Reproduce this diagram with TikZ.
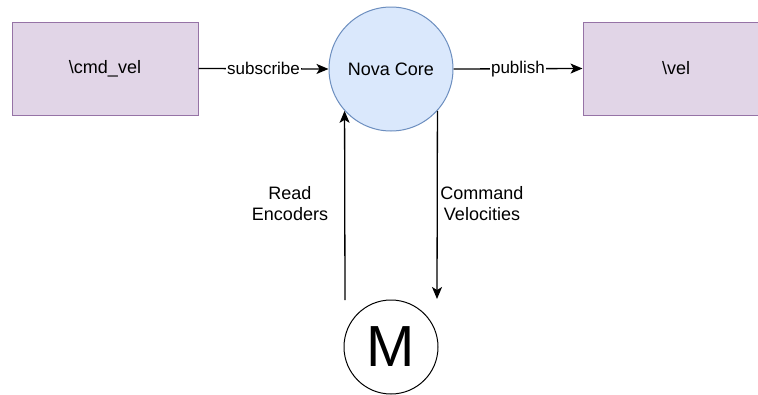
\documentclass[tikz,border=0pt]{standalone}
\usepackage{fontspec}
\setmainfont{Liberation Sans}
\usetikzlibrary{arrows.meta}
\definecolor{topicfill}{HTML}{E1D5E7}
\definecolor{topicdraw}{HTML}{9673A6}
\definecolor{corefill}{HTML}{DAE8FC}
\definecolor{coredraw}{HTML}{6C8EBF}
\tikzset{
  topic/.style={draw=topicdraw, fill=topicfill, line width=1pt, minimum width=186pt, minimum height=93pt, inner sep=0pt, font=\fontsize{18}{21}\selectfont},
  core/.style={circle, draw=coredraw, fill=corefill, line width=1pt, minimum size=124pt, inner sep=0pt, font=\fontsize{18}{21}\selectfont},
  motor/.style={circle, draw=black, line width=1pt, minimum size=94pt, inner sep=0pt, font=\fontsize{58}{60}\selectfont},
  arr/.style={line width=1.3pt, -{Stealth[length=12pt, width=10pt, inset=3pt]}},
  elabel/.style={fill=white, inner sep=1pt, font=\fontsize{17}{20}\selectfont},
  sidelabel/.style={align=center, inner sep=0pt, font=\fontsize{18}{21}\selectfont}
}
\begin{document}
\begin{tikzpicture}[x=1pt, y=-1pt]
  \useasboundingbox (0,0) rectangle (758,394);
  % topics and the core node
  \node[topic] (cmdvel) at (105,68.5) {\textbackslash cmd\_vel};
  \node[core] (core) at (391,69) {Nova Core};
  \node[topic] (vel) at (676,68.5) {\textbackslash vel};
  % motor
  \node[motor] (motor) at (391,347) {M};
  % topic connections
  \draw[arr] (cmdvel.east) -- node[elabel] {subscribe} (core.west);
  \draw[arr] (core.east) -- node[elabel] {publish} (vel.west);
  % motor links
  \coordinate (encfrom) at (345,300);
  \coordinate (velto) at (437,299);
  \draw[arr] (encfrom) -- (core.222);
  \draw[arr] (core.318) -- (velto);
  \node[sidelabel] (enclabel) at (290,204) {Read\\Encoders};
  \node[sidelabel] (vellabel) at (482,204) {Command\\Velocities};
\end{tikzpicture}
\end{document}
